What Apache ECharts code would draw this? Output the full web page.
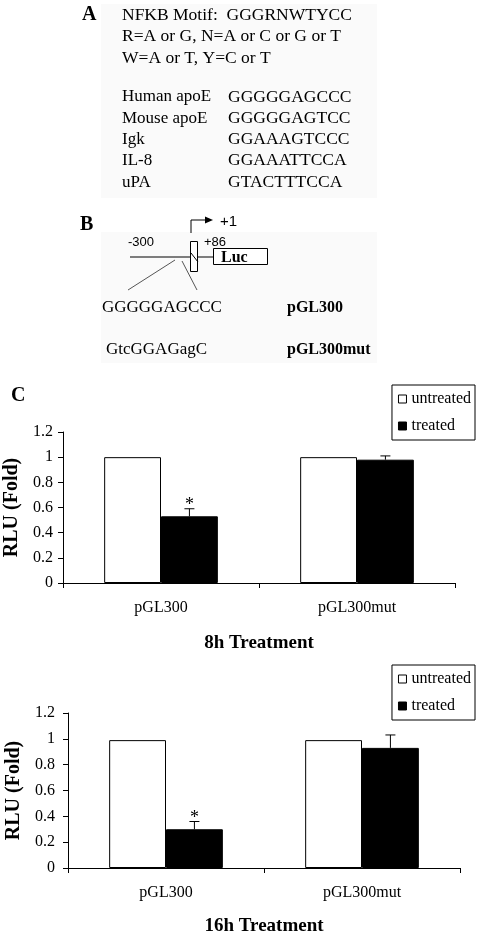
<!DOCTYPE html>
<html><head><meta charset="utf-8">
<script src="https://cdn.jsdelivr.net/npm/echarts@6/dist/echarts.min.js"></script>
<style>html,body{margin:0;padding:0;background:#fff}#c{width:478px;height:940px}</style>
</head><body><div id="c"></div>
<script>
// ---- data ----
const categories = ['pGL300', 'pGL300mut'];
const seriesNames = ['untreated', 'treated'];
const untreated8h = [1, 1];
const treated8h = [0.53, 0.98];
const err8h = [0.06, 0.03];
const sig8h = [true, false];
const untreated16h = [0.99, 0.99];
const treated16h = [0.30, 0.93];
const err16h = [0.06, 0.10];
const sig16h = [true, false];
const yTicks = [0, 0.2, 0.4, 0.6, 0.8, 1, 1.2];
const titles = ['8h Treatment', '16h Treatment'];
const yName = 'RLU (Fold)';
const panelLetters = ['A', 'B', 'C'];
const motifLines = ['NFKB Motif:  GGGRNWTYCC', 'R=A or G, N=A or C or G or T', 'W=A or T, Y=C or T'];
const siteNames = ['Human apoE', 'Mouse apoE', 'Igk', 'IL-8', 'uPA'];
const siteSeqs = ['GGGGGAGCCC', 'GGGGGAGTCC', 'GGAAAGTCCC', 'GGAAATTCCA', 'GTACTTTCCA'];
const constructSeqs = ['GGGGGAGCCC', 'GtcGGAGagC'];
const constructNames = ['pGL300', 'pGL300mut'];
const diagramLabels = ['-300', '+86', '+1', 'Luc'];

// ---- rendering ----
const serif = "'Liberation Serif','Times New Roman',serif";
const sans = "'Liberation Sans',Arial,sans-serif";
const chart = echarts.init(document.getElementById('c'), null, {renderer: 'canvas'});

function txt(text, x, y, size, opts) {
  opts = opts || {};
  return {
    type: 'text', z: 10,
    style: {
      text: text, x: x, y: y,
      font: (opts.bold ? 'bold ' : '') + size + 'px ' + (opts.family || serif),
      fill: opts.fill || '#000',
      align: opts.align || 'left', textAlign: opts.align || 'left',
      verticalAlign: 'middle', textVerticalAlign: 'middle'
    }
  };
}
function line(x1, y1, x2, y2, color) {
  return {type: 'line', z: 10, shape: {x1: x1, y1: y1, x2: x2, y2: y2}, style: {stroke: color || '#000', lineWidth: 1}};
}

const graphics = [];
// faint background areas of the text panels
graphics.push({type: 'rect', z: 1, shape: {x: 101, y: 4, width: 276, height: 194}, style: {fill: '#fafafa'}});
graphics.push({type: 'rect', z: 1, shape: {x: 101, y: 232, width: 276, height: 131}, style: {fill: '#fafafa'}});
// panel letters
graphics.push(txt(panelLetters[0], 82, 15, 20, {bold: true}));
graphics.push(txt(panelLetters[1], 80, 225, 20, {bold: true}));
graphics.push(txt(panelLetters[2], 11, 396, 20, {bold: true}));
// panel A
motifLines.forEach((t, i) => graphics.push(txt(t, 122, 15 + i * 21.5, 17.5)));
siteNames.forEach((t, i) => {
  graphics.push(txt(t, 122, 97 + i * 21.3, 17));
  graphics.push(txt(siteSeqs[i], 228, 97 + i * 21.3, 17.5));
});
// panel B diagram
graphics.push(line(191, 233, 191, 220));
graphics.push(line(191, 220, 207, 220));
graphics.push({type: 'polygon', z: 10, shape: {points: [[205, 216.5], [213, 220], [205, 223.5]]}, style: {fill: '#000'}});
graphics.push(txt(diagramLabels[2], 220, 222, 15, {family: sans}));
graphics.push(txt(diagramLabels[0], 128, 242, 13, {family: sans}));
graphics.push(txt(diagramLabels[1], 204, 242, 13, {family: sans}));
graphics.push(line(130, 257, 213, 257));
graphics.push({type: 'rect', z: 11, shape: {x: 190.5, y: 241.5, width: 7, height: 30}, style: {fill: '#fff', stroke: '#000', lineWidth: 1}});
graphics.push({type: 'line', z: 12, shape: {x1: 191, y1: 253, x2: 198, y2: 262}, style: {stroke: '#000', lineWidth: 1}});
graphics.push({type: 'rect', z: 10, shape: {x: 213.5, y: 248.5, width: 54, height: 16}, style: {fill: '#fff', stroke: '#000', lineWidth: 1}});
graphics.push(txt(diagramLabels[3], 221, 258, 16, {bold: true}));
graphics.push(line(175, 260, 128, 290, '#555'));
graphics.push(line(182, 261, 197, 290, '#555'));
constructSeqs.forEach((t, i) => {
  graphics.push(txt(t, i === 0 ? 102 : 106, 308 + i * 42, 17));
  graphics.push(txt(constructNames[i], 287, 308 + i * 42, 16, {bold: true}));
});

const fmt = v => {
  const t = yTicks.find(k => Math.abs(k - v) < 1e-6);
  return t === undefined ? '' : String(t);
};

function errRender(params, api) {
  const idx = api.value(0), val = api.value(1), e = api.value(2), sig = api.value(3);
  const base = api.coord([idx, val]);
  const top = api.coord([idx, val + e]);
  const band = api.size([1, 0])[0];
  const bw = band * (1 - 0.42) / 2;
  const x = base[0] + bw / 2;
  const cap = 5;
  const children = [
    {type: 'line', shape: {x1: x, y1: base[1], x2: x, y2: top[1]}, style: {stroke: '#000', lineWidth: 1}},
    {type: 'line', shape: {x1: x - cap, y1: top[1], x2: x + cap, y2: top[1]}, style: {stroke: '#000', lineWidth: 1}}
  ];
  if (sig) children.push({type: 'text', style: {text: '*', x: x, y: top[1] - 3, font: '18px ' + serif, fill: '#000', align: 'center', textAlign: 'center', verticalAlign: 'middle', textVerticalAlign: 'middle'}});
  return {type: 'group', children: children};
}

const grids = [
  {left: 63, right: 23, top: 432, height: 151, containLabel: false, outerBoundsMode: 'none'},
  {left: 68, right: 18, top: 713, height: 155, containLabel: false, outerBoundsMode: 'none'}
];
const datasets = [
  {u: untreated8h, t: treated8h, e: err8h, s: sig8h},
  {u: untreated16h, t: treated16h, e: err16h, s: sig16h}
];
const xAxes = [], yAxes = [], series = [], legends = [];
const legendTops = [385, 665];
const nameGaps = [39, 43];
const labelMargins = [10, 13];
const titleGaps = [51, 49];
datasets.forEach((d, i) => {
  xAxes.push({
    type: 'category', gridIndex: i, data: categories,
    axisLine: {lineStyle: {color: '#000', width: 1}},
    axisTick: {show: true, length: 5, lineStyle: {color: '#000'}},
    axisLabel: {color: '#000', fontFamily: serif, fontSize: 16, margin: 17},
    splitLine: {show: false},
    name: titles[i], nameLocation: 'middle', nameGap: titleGaps[i],
    nameTextStyle: {fontFamily: serif, fontWeight: 'bold', fontSize: 19, color: '#000'}
  });
  yAxes.push({
    type: 'value', gridIndex: i, min: 0, max: 1.2, interval: 0.2,
    axisLine: {show: true, lineStyle: {color: '#000', width: 1}},
    axisTick: {show: true, length: 5, lineStyle: {color: '#000'}},
    axisLabel: {color: '#000', fontFamily: serif, fontSize: 16, margin: labelMargins[i], formatter: fmt},
    splitLine: {show: false},
    name: yName, nameLocation: 'middle', nameGap: nameGaps[i], nameRotate: 90,
    nameTextStyle: {fontFamily: serif, fontWeight: 'bold', fontSize: 20, color: '#000'}
  });
  series.push({
    type: 'bar', name: seriesNames[0], xAxisIndex: i, yAxisIndex: i, data: d.u,
    barGap: '0%', barCategoryGap: '42%',
    itemStyle: {color: '#fff', borderColor: '#000', borderWidth: 1}
  });
  series.push({
    type: 'bar', name: seriesNames[1], xAxisIndex: i, yAxisIndex: i, data: d.t,
    barGap: '0%', barCategoryGap: '42%',
    itemStyle: {color: '#000', borderColor: '#000', borderWidth: 1}
  });
  series.push({
    type: 'custom', name: 'err' + i, xAxisIndex: i, yAxisIndex: i, z: 5,
    renderItem: errRender,
    encode: {x: 0, y: 1},
    data: categories.map((c, k) => [k, d.t[k], d.e[k], d.s[k] ? 1 : 0])
  });
  legends.push({
    orient: 'vertical', right: 3, top: legendTops[i],
    data: [
      {name: seriesNames[0], itemStyle: {color: '#fff', borderColor: '#000', borderWidth: 1}},
      {name: seriesNames[1], itemStyle: {color: '#000', borderColor: '#000', borderWidth: 1}}
    ],
    icon: 'rect', itemWidth: 8, itemHeight: 8, itemGap: 11,
    borderColor: '#000', borderWidth: 1, borderRadius: 0, padding: [6, 4, 6, 6],
    textStyle: {fontFamily: serif, fontSize: 16, color: '#000'},
    selectedMode: false
  });
});

chart.setOption({
  animation: false,
  backgroundColor: '#fff',
  grid: grids,
  xAxis: xAxes,
  yAxis: yAxes,
  legend: legends,
  series: series,
  graphic: graphics
});
</script>
</body></html>
